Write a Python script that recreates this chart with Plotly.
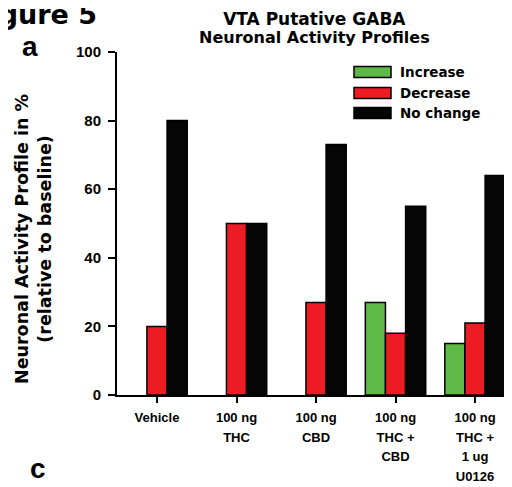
import plotly.graph_objects as go

categories = ["Vehicle", "100 ng<br>THC", "100 ng<br>CBD", "100 ng<br>THC +<br>CBD", "100 ng<br>THC +<br>1 ug<br>U0126"]
increase = [0, 0, 0, 27, 15]
decrease = [20, 50, 27, 18, 21]
no_change = [80, 50, 73, 55, 64]
series_names = ["Increase", "Decrease", "No change"]
series_colors = ["#5fb946", "#ed1c24", "#050505"]
y_ticks = [0, 20, 40, 60, 80, 100]

# page body has an 8px margin: figure coordinates = screen - 8
OFF = 8
W, H = 512 - OFF, 487 - OFF
L, T = 117 - OFF, 52 - OFF
B = H - (395 - OFF)
R = 0
PW, PH = W - L - R, H - T - B


def px(xs):
    return (xs - OFF - L) / PW


def py(ys):
    return (H - B - (ys - OFF)) / PH


ARIAL = "Liberation Sans, Arial, sans-serif"
DEJAVU = "DejaVu Sans, sans-serif"
xs = list(range(len(categories)))


def small_lines(label, size):
    return "<br>".join('<span style="font-size:%dpx"><b>%s</b></span>' % (size, part)
                       for part in label.split("<br>"))


fig = go.Figure()
for name, vals, col in zip(series_names, [increase, decrease, no_change], series_colors):
    fig.add_trace(go.Bar(
        x=xs, y=vals, name=name,
        marker=dict(color=col,
                    line=dict(color="black", width=[1.5 if v else 0 for v in vals])),
        showlegend=False,
    ))

fig.update_layout(
    width=W, height=H,
    margin=dict(l=L, r=R, t=T, b=B, autoexpand=False),
    paper_bgcolor="white", plot_bgcolor="white",
    barmode="group", bargap=0.24, bargroupgap=0,
    font=dict(family=ARIAL, color="black"),
    xaxis=dict(
        range=[-0.503, 4.465],
        tickvals=xs,
        ticktext=[small_lines(c, 13) for c in categories],
        tickfont=dict(size=15, family=ARIAL, color="black"),
        ticklabelstandoff=1,
        showline=True, linecolor="black", linewidth=2,
        ticks="outside", ticklen=6, tickwidth=1.5, tickcolor="black",
        showgrid=False, zeroline=False, fixedrange=True,
    ),
    yaxis=dict(
        range=[0, 100],
        tickvals=y_ticks,
        ticktext=["<b>%d</b>" % v for v in y_ticks],
        tickfont=dict(size=15, family=ARIAL, color="black"),
        ticklabelstandoff=4,
        showline=True, linecolor="black", linewidth=2,
        ticks="outside", ticklen=7, tickwidth=2, tickcolor="black",
        showgrid=False, zeroline=False, fixedrange=True,
    ),
)

annotations = [
    dict(text='<span style="font-size:17px"><b>VTA Putative GABA</b></span><br>'
              '<span style="font-size:16px"><b>Neuronal Activity Profiles</b></span>',
         xref="paper", yref="paper", x=px(314), y=py(28),
         xanchor="center", yanchor="middle", showarrow=False,
         font=dict(size=14, family=DEJAVU, color="black")),
    dict(text="<b>Neuronal Activity Profile in %<br>(relative to baseline)</b>",
         xref="paper", yref="paper", x=px(33), y=py(239),
         xanchor="center", yanchor="middle", textangle=-90, showarrow=False,
         font=dict(size=17.5, family=DEJAVU, color="black")),
    dict(text="<b>Figure 5</b>", xref="paper", yref="paper", x=px(99), y=py(14),
         xanchor="right", yanchor="middle", showarrow=False,
         font=dict(size=27, family=DEJAVU, color="black")),
    dict(text="<b>a</b>", xref="paper", yref="paper", x=px(29.5), y=py(46),
         xanchor="center", yanchor="middle", showarrow=False,
         font=dict(size=28, family=ARIAL, color="black")),
    dict(text="<b>c</b>", xref="paper", yref="paper", x=px(37.5), y=py(468),
         xanchor="center", yanchor="middle", showarrow=False,
         font=dict(size=28, family=ARIAL, color="black")),
]

shapes = []
legend_y = [72, 93, 113]
for name, col, yc in zip(series_names, series_colors, legend_y):
    shapes.append(dict(type="rect", xref="paper", yref="paper",
                       x0=px(354), x1=px(391), y0=py(yc + 5.5), y1=py(yc - 5.5),
                       fillcolor=col, line=dict(color="black", width=1.5)))
    annotations.append(dict(text="<b>%s</b>" % name, xref="paper", yref="paper",
                            x=px(398), y=py(yc), xanchor="left", yanchor="middle",
                            showarrow=False,
                            font=dict(size=13.5, family=DEJAVU, color="black")))

fig.update_layout(annotations=annotations, shapes=shapes)
fig.write_html("out.html")
